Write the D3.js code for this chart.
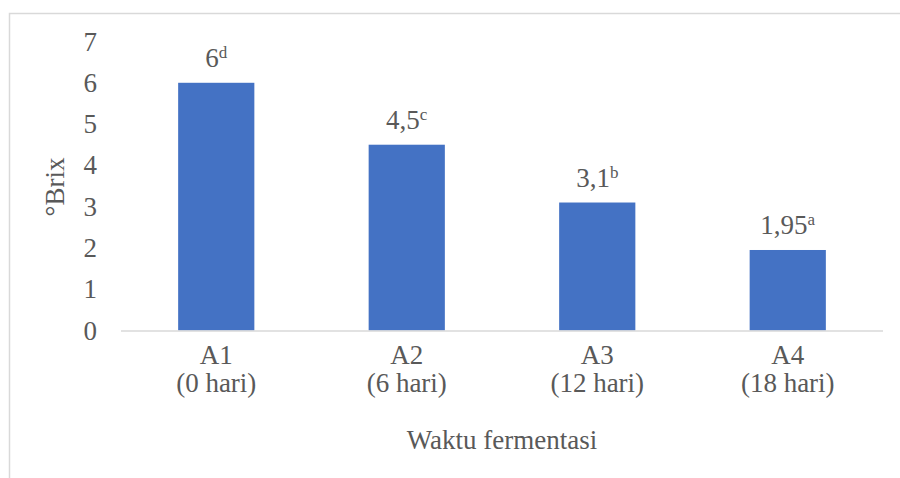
<!DOCTYPE html>
<html><head><meta charset="utf-8">
<script src="https://cdn.jsdelivr.net/npm/d3@7"></script>
<style>body{margin:0;background:#fff}svg{display:block}</style>
</head><body><svg id="c" width="900" height="478"></svg>
<script>
const categories = ["A1", "A2", "A3", "A4"];
const subLabels = ["(0 hari)", "(6 hari)", "(12 hari)", "(18 hari)"];
const values = [6, 4.5, 3.1, 1.95];
const valueLabels = ["6", "4,5", "3,1", "1,95"];
const letters = ["d", "c", "b", "a"];
const yTicks = [0, 1, 2, 3, 4, 5, 6, 7];

const FONT = "'Liberation Serif'";
const TXT = "#595959";
const svg = d3.select("#c");
svg.append("rect").attr("x", 9.5).attr("y", 13.5).attr("width", 1000).attr("height", 1000)
  .attr("fill", "none").attr("stroke", "#d9d9d9").attr("stroke-width", 1.5);

const x = d3.scaleBand().domain(categories).range([121, 883]).paddingInner(0.6).paddingOuter(0.3);
const y = d3.scaleLinear().domain([0, 7]).range([330.5, 41.5]);
const fs = 27;

function txt(sel) { return sel.style("font-family", FONT).style("font-size", fs + "px").style("fill", TXT); }

const yAxis = d3.axisLeft(y).tickValues(yTicks).tickSize(0).tickPadding(0).tickFormat(d3.format("d"));
const ga = svg.append("g").attr("transform", "translate(97,0)").call(yAxis);
ga.select(".domain").remove();
txt(ga.selectAll("text"));

svg.selectAll("rect.bar").data(values).join("rect").attr("class", "bar")
  .attr("x", (d, i) => x(categories[i])).attr("width", x.bandwidth())
  .attr("y", d => y(d)).attr("height", d => y(0) - y(d)).attr("fill", "#4472C4");

svg.append("line").attr("x1", 121).attr("x2", 883).attr("y1", y(0) + 0.5).attr("y2", y(0) + 0.5)
  .attr("stroke", "#d9d9d9").attr("stroke-width", 1.5);

categories.forEach((c, i) => {
  const cx = x(c) + x.bandwidth() / 2;
  txt(svg.append("text")).attr("x", cx).attr("y", 364).attr("text-anchor", "middle").text(c);
  txt(svg.append("text")).attr("x", cx).attr("y", 392).attr("text-anchor", "middle").text(subLabels[i]);
  const t = txt(svg.append("text")).attr("x", cx).attr("y", y(values[i]) - 16).attr("text-anchor", "middle");
  t.append("tspan").text(valueLabels[i]);
  t.append("tspan").style("font-size", "17px").attr("dy", -9).text(letters[i]);
});

txt(svg.append("text")).attr("x", 502).attr("y", 449).attr("text-anchor", "middle").text("Waktu fermentasi");
txt(svg.append("text")).attr("transform", "translate(64,187) rotate(-90)").attr("text-anchor", "middle").text("°Brix");
</script></body></html>
